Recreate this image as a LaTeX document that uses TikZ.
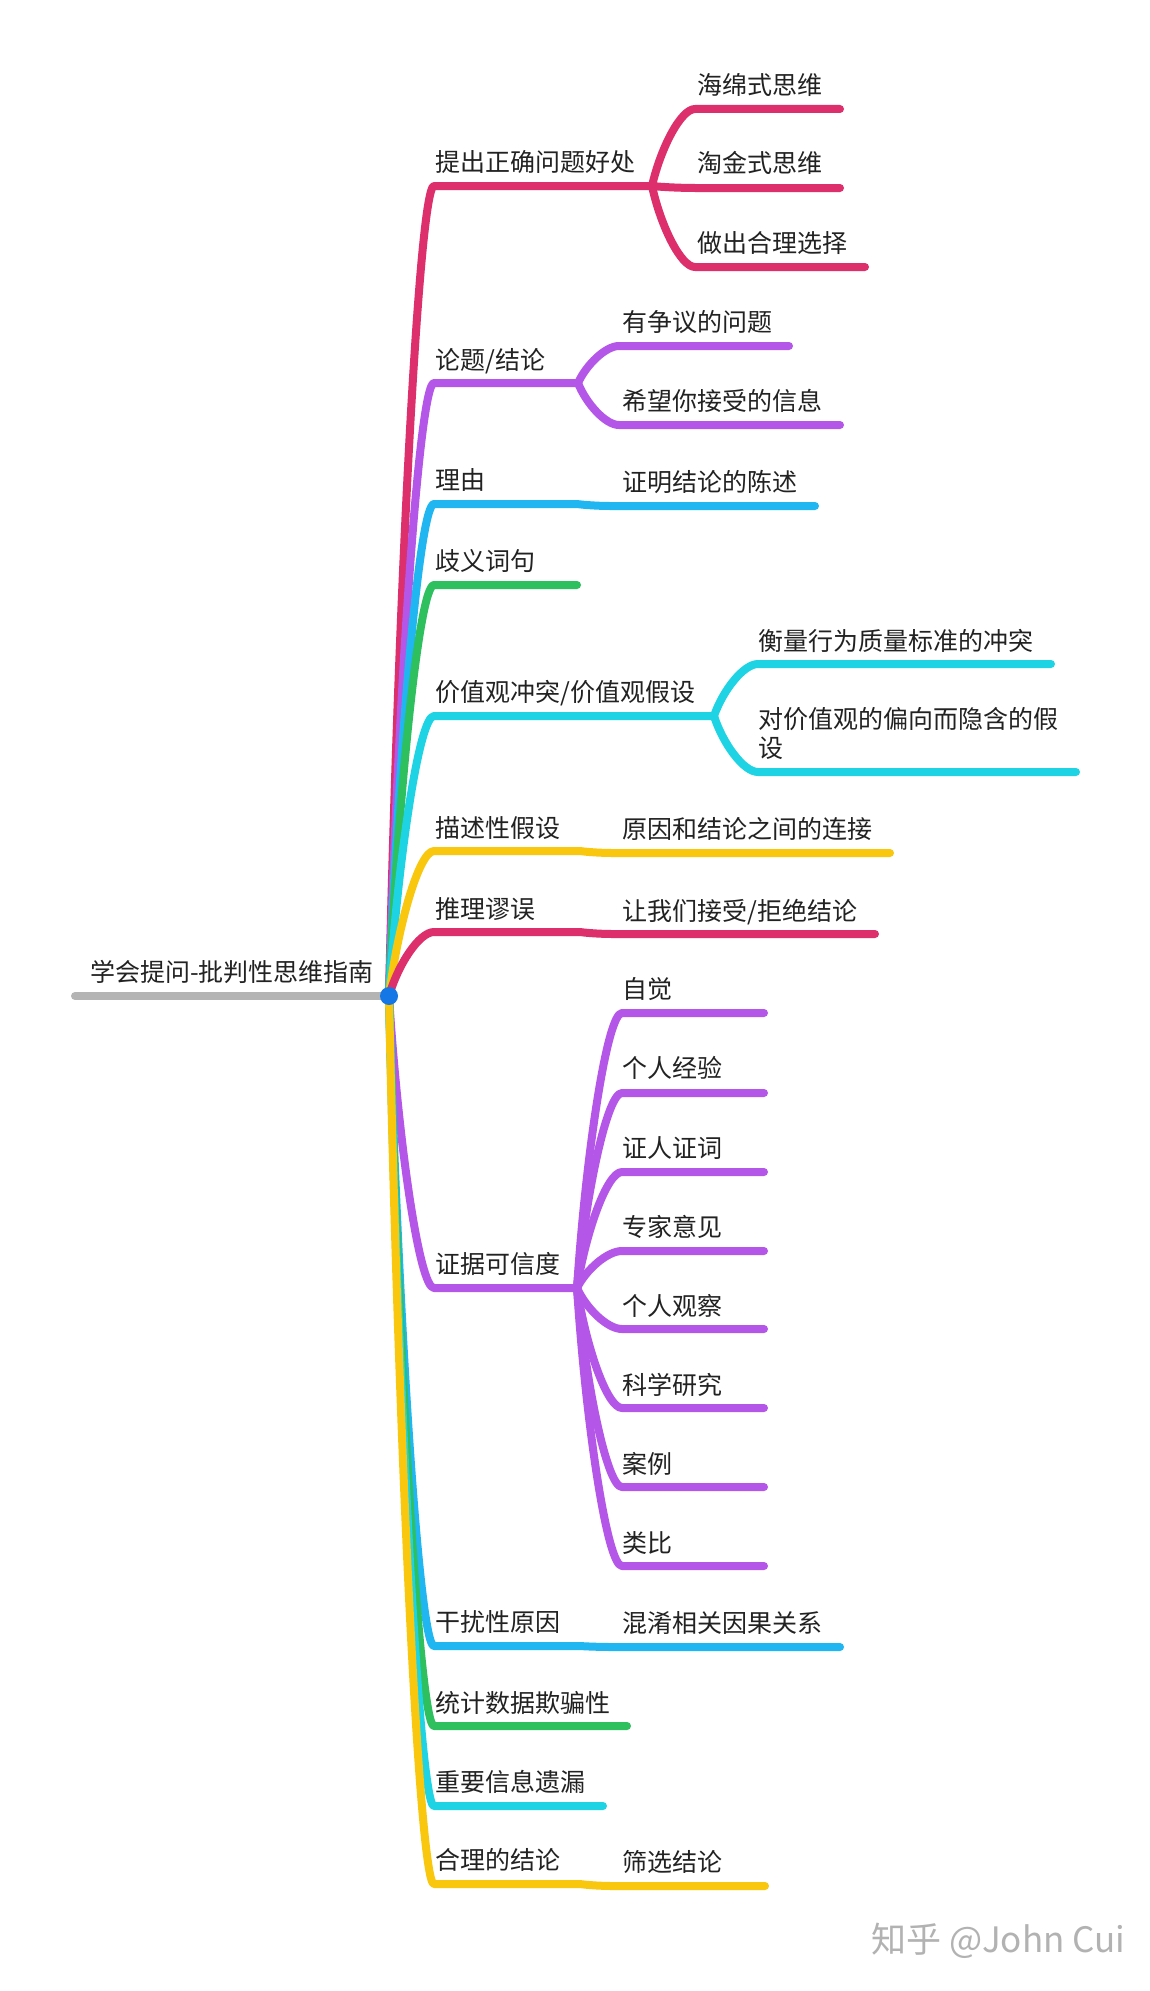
\documentclass[tikz,border=0pt]{standalone}
\usepackage{fontspec}
\usetikzlibrary{calc}
\setmainfont{Noto Sans CJK SC}
\definecolor{cRed}{HTML}{DC2F6B}
\definecolor{cPur}{HTML}{B456E8}
\definecolor{cBlu}{HTML}{1FB6F2}
\definecolor{cGrn}{HTML}{2EBF5F}
\definecolor{cCya}{HTML}{1ED4E4}
\definecolor{cYel}{HTML}{F8C70E}
\definecolor{cGry}{HTML}{B4B4B4}
\definecolor{cDot}{HTML}{1577E6}
\definecolor{cTxt}{HTML}{222222}
\definecolor{cMrk}{HTML}{B2B2B2}
\tikzset{
  br/.style={line width=8pt,line cap=round,line join=round},
  mm/.style={to path={let \p1=(\tikztostart),\p2=(\tikztotarget) in
     .. controls ({\x1+.2*(\x2-\x1)},{\y1+.49*(\y2-\y1)}) and ({\x1+.67*(\x2-\x1)},{\y2}) .. (\tikztotarget)}},
  lab/.style={anchor=base west,inner sep=0pt,text=cTxt,font=\fontsize{25}{29}\selectfont},
}
\begin{document}
\begin{tikzpicture}[x=1pt,y=-1pt]
\useasboundingbox (0,0) rectangle (1150,1991);
\fill[white] (0,0) rectangle (1150,1991);
% root
\coordinate (root) at (389,996);
\coordinate (rootL) at (75,996);
\draw[br,cGry] (rootL) -- (root);
% ---- texts
\node[lab] (tRoot) at (90,981.5) {学会提问-批判性思维指南};
\node[lab] (tA) at (435,171.5) {提出正确问题好处};
\node[lab] (tA1) at (697,94.5) {海绵式思维};
\node[lab] (tA2) at (697,172.5) {淘金式思维};
\node[lab] (tA3) at (697,252.5) {做出合理选择};
\node[lab] (tB) at (435,369.5) {论题/结论};
\node[lab] (tB1) at (622,331.5) {有争议的问题};
\node[lab] (tB2) at (622,410.5) {希望你接受的信息};
\node[lab] (tC) at (435,489.5) {理由};
\node[lab] (tC1) at (622,491.5) {证明结论的陈述};
\node[lab] (tD) at (435,570.5) {歧义词句};
\node[lab] (tE) at (435,701.5) {价值观冲突/价值观假设};
\node[lab] (tE1) at (758,650.5) {衡量行为质量标准的冲突};
\node[lab,anchor=west,align=left] (tE2) at (758,733.5) {对价值观的偏向而隐含的假\\设};
\node[lab] (tF) at (435,837.5) {描述性假设};
\node[lab] (tF1) at (622,838.5) {原因和结论之间的连接};
\node[lab] (tG) at (435,918.5) {推理谬误};
\node[lab] (tG1) at (622,920.5) {让我们接受/拒绝结论};
\node[lab] (tH) at (435,1273.5) {证据可信度};
\node[lab] (tH1) at (622,998.5) {自觉};
\node[lab] (tH2) at (622,1077.5) {个人经验};
\node[lab] (tH3) at (622,1157.5) {证人证词};
\node[lab] (tH4) at (622,1236.5) {专家意见};
\node[lab] (tH5) at (622,1315.5) {个人观察};
\node[lab] (tH6) at (622,1394.5) {科学研究};
\node[lab] (tH7) at (622,1473.5) {案例};
\node[lab] (tH8) at (622,1552.5) {类比};
\node[lab] (tI) at (435,1631.5) {干扰性原因};
\node[lab] (tI1) at (622,1632.5) {混淆相关因果关系};
\node[lab] (tJ) at (435,1712.5) {统计数据欺骗性};
\node[lab] (tK) at (435,1791.5) {重要信息遗漏};
\node[lab] (tL) at (435,1869.5) {合理的结论};
\node[lab] (tL1) at (622,1871.5) {筛选结论};
\node[anchor=base west,inner sep=0pt,text=cMrk,font=\fontsize{35}{40}\selectfont] (wm) at (871,1952) {知乎 @John Cui};
% ---- coordinates
\coordinate (a) at (434,186); \coordinate (aj) at (652,186);
\coordinate (a1s) at (695,109); \coordinate (a1e) at (840,109);
\coordinate (a2s) at (695,188); \coordinate (a2e) at (840,188);
\coordinate (a3s) at (695,267); \coordinate (a3e) at (865,267);
\coordinate (b) at (434,383); \coordinate (bj) at (578,383);
\coordinate (b1s) at (619,346); \coordinate (b1e) at (789,346);
\coordinate (b2s) at (619,425); \coordinate (b2e) at (840,425);
\coordinate (c) at (434,504); \coordinate (cj) at (577,504);
\coordinate (c1s) at (610,506); \coordinate (c1e) at (815,506);
\coordinate (d) at (434,585); \coordinate (de) at (577,585);
\coordinate (e) at (434,716); \coordinate (ej) at (714,716);
\coordinate (e1s) at (758,664); \coordinate (e1e) at (1051,664);
\coordinate (e2s) at (758,772); \coordinate (e2e) at (1076,772);
\coordinate (f) at (434,851); \coordinate (fj) at (580,851);
\coordinate (f1s) at (612,853); \coordinate (f1e) at (890,853);
\coordinate (g) at (434,932); \coordinate (gj) at (580,932);
\coordinate (g1s) at (612,934); \coordinate (g1e) at (875,934);
\coordinate (h) at (434,1288); \coordinate (hj) at (577,1288);
\coordinate (h1s) at (622,1013); \coordinate (h1e) at (764,1013);
\coordinate (h2s) at (622,1093); \coordinate (h2e) at (764,1093);
\coordinate (h3s) at (622,1172); \coordinate (h3e) at (764,1172);
\coordinate (h4s) at (622,1251); \coordinate (h4e) at (764,1251);
\coordinate (h5s) at (622,1329); \coordinate (h5e) at (764,1329);
\coordinate (h6s) at (622,1408); \coordinate (h6e) at (764,1408);
\coordinate (h7s) at (622,1487); \coordinate (h7e) at (764,1487);
\coordinate (h8s) at (622,1566); \coordinate (h8e) at (764,1566);
\coordinate (i) at (434,1646); \coordinate (ij) at (580,1646);
\coordinate (i1s) at (612,1647); \coordinate (i1e) at (840,1647);
\coordinate (j) at (434,1726); \coordinate (je) at (627,1726);
\coordinate (k) at (434,1806); \coordinate (ke) at (603,1806);
\coordinate (l) at (434,1884); \coordinate (lj) at (580,1884);
\coordinate (l1s) at (612,1886); \coordinate (l1e) at (765,1886);
% ---- branches
\draw[br,cRed] (root) to[mm] (a) -- (aj);
\draw[br,cRed] (aj) to[mm] (a1s) -- (a1e);
\draw[br,cRed] (aj) to[mm] (a2s) -- (a2e);
\draw[br,cRed] (aj) to[mm] (a3s) -- (a3e);
\draw[br,cPur] (root) to[mm] (b) -- (bj);
\draw[br,cPur] (bj) to[mm] (b1s) -- (b1e);
\draw[br,cPur] (bj) to[mm] (b2s) -- (b2e);
\draw[br,cBlu] (root) to[mm] (c) -- (cj) to[mm] (c1s) -- (c1e);
\draw[br,cGrn] (root) to[mm] (d) -- (de);
\draw[br,cCya] (root) to[mm] (e) -- (ej);
\draw[br,cCya] (ej) to[mm] (e1s) -- (e1e);
\draw[br,cCya] (ej) to[mm] (e2s) -- (e2e);
\draw[br,cYel] (root) to[mm] (f) -- (fj) to[mm] (f1s) -- (f1e);
\draw[br,cRed] (root) to[mm] (g) -- (gj) to[mm] (g1s) -- (g1e);
\draw[br,cPur] (root) to[mm] (h) -- (hj);
\draw[br,cPur] (hj) to[mm] (h1s) -- (h1e);
\draw[br,cPur] (hj) to[mm] (h2s) -- (h2e);
\draw[br,cPur] (hj) to[mm] (h3s) -- (h3e);
\draw[br,cPur] (hj) to[mm] (h4s) -- (h4e);
\draw[br,cPur] (hj) to[mm] (h5s) -- (h5e);
\draw[br,cPur] (hj) to[mm] (h6s) -- (h6e);
\draw[br,cPur] (hj) to[mm] (h7s) -- (h7e);
\draw[br,cPur] (hj) to[mm] (h8s) -- (h8e);
\draw[br,cBlu] (root) to[mm] (i) -- (ij) to[mm] (i1s) -- (i1e);
\draw[br,cGrn] (root) to[mm] (j) -- (je);
\draw[br,cCya] (root) to[mm] (k) -- (ke);
\draw[br,cYel] (root) to[mm] (l) -- (lj) to[mm] (l1s) -- (l1e);
% centre dot
\node[circle,fill=cDot,inner sep=0pt,minimum size=18pt] (dot) at (root) {};
\end{tikzpicture}
\end{document}
